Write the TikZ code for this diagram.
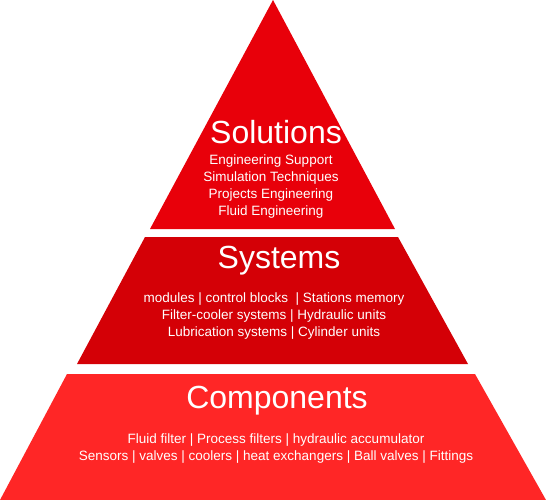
\documentclass[tikz,border=0pt]{standalone}
\usepackage{fontspec}
\setmainfont{Liberation Sans}
\definecolor{solred}{RGB}{232,0,10}
\definecolor{sysred}{RGB}{212,0,6}
\definecolor{comred}{RGB}{255,38,38}
\usetikzlibrary{positioning}

\begin{document}
\begin{tikzpicture}[x=1pt, y=-1pt,
    title/.style={text=white, font=\fontsize{32}{36}\selectfont, anchor=base, inner sep=0},
    items/.style={text=white, font=\fontsize{13.5}{16.7}\selectfont, align=center, anchor=base, inner sep=0}]
    \useasboundingbox (0,0) rectangle (546,500);
    % layers of the pyramid
    \fill[solred] (273,0) -- (395,229) -- (150,229) -- cycle;
    \fill[sysred] (145,237) -- (398,237) -- (468,364) -- (77,364) -- cycle;
    \fill[comred] (67,374) -- (475,374) -- (546,500) -- (0,500) -- cycle;
    % texts (base = last line)
    \node[title] (solutions) at (276,143) {Solutions};
    \node[items] (solitems) at (271,215) {Engineering Support\\Simulation Techniques\\Projects Engineering\\Fluid Engineering};
    \node[title] (systems) at (279,268) {Systems};
    \node[items] (sysitems) at (274,336) {modules | control blocks ~| Stations memory\\Filter-cooler systems | Hydraulic units\\Lubrication systems | Cylinder units};
    \node[title] (components) at (277,408) {Components};
    \node[items] (comitems) at (276,460) {Fluid filter | Process filters | hydraulic accumulator\\Sensors | valves | coolers | heat exchangers | Ball valves | Fittings};
\end{tikzpicture}
\end{document}
